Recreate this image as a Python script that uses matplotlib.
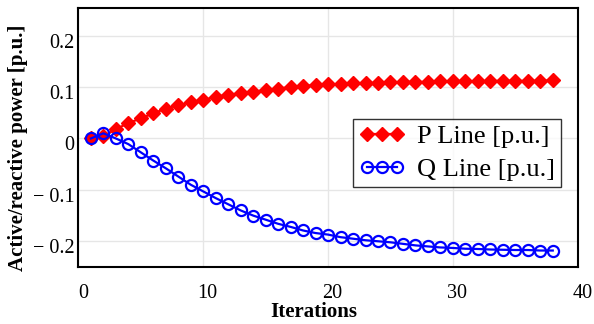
import matplotlib
matplotlib.use("Agg")
import matplotlib.pyplot as plt
from matplotlib.transforms import ScaledTranslation

iterations = list(range(1, 39))
p_line = [0.000, 0.004, 0.018, 0.030, 0.039, 0.049, 0.058, 0.065, 0.070, 0.075,
          0.081, 0.085, 0.088, 0.091, 0.094, 0.097, 0.100, 0.102, 0.104, 0.105,
          0.106, 0.107, 0.108, 0.108, 0.109, 0.110, 0.110, 0.110, 0.111, 0.111,
          0.111, 0.111, 0.112, 0.112, 0.112, 0.112, 0.112, 0.113]
q_line = [0.000, 0.010, 0.000, -0.011, -0.027, -0.043, -0.058, -0.074, -0.090, -0.103,
          -0.116, -0.128, -0.140, -0.150, -0.158, -0.166, -0.172, -0.179, -0.184, -0.187,
          -0.192, -0.195, -0.198, -0.200, -0.202, -0.205, -0.208, -0.210, -0.212, -0.213,
          -0.2145, -0.215, -0.216, -0.2165, -0.217, -0.217, -0.218, -0.218]
x_ticks = [0, 10, 20, 30, 40]
y_ticks = [-0.2, -0.1, 0, 0.1, 0.2]
y_tick_labels = ["\u2212 0.2", "\u2212 0.1", "0", "0.1", "0.2"]

plt.rcParams['font.family'] = ['Liberation Serif', 'DejaVu Serif']

fig = plt.figure(figsize=(5.94, 3.24), dpi=100)
ax = fig.add_axes([0.132, 0.176, 0.8406, 0.798])

ax.plot(iterations, p_line, color='red', marker='D', markersize=7, lw=1.6,
        label='P Line [p.u.]', zorder=3)
ax.plot(iterations, q_line, color='blue', marker='o', markersize=8, lw=1.6,
        markerfacecolor='none', markeredgewidth=1.6, markeredgecolor='blue',
        label='Q Line [p.u.]', zorder=3)

ax.set_xlim(0, 40)
ax.set_ylim(-0.25, 0.253)
ax.set_xticks(x_ticks)
ax.set_yticks(y_ticks)
ax.set_yticklabels(y_tick_labels)
ax.grid(True, color='#e6e6e6', lw=1.0)
ax.set_axisbelow(True)
ax.tick_params(axis='both', length=0, labelsize=14.5)
ax.tick_params(axis='x', pad=12)
ax.tick_params(axis='y', pad=3)
for sp in ax.spines.values():
    sp.set_linewidth(1.5)
    sp.set_color('black')

for lab in ax.get_xticklabels():
    lab.set_transform(lab.get_transform() + ScaledTranslation(4.5/100, 0, fig.dpi_scale_trans))
for lab in ax.get_yticklabels():
    lab.set_transform(lab.get_transform() + ScaledTranslation(0, -5/100, fig.dpi_scale_trans))

ax.set_xlabel('Iterations', fontsize=15, fontweight='bold')
ax.set_ylabel('Active/reactive power [p.u.]', fontsize=15, fontweight='bold')
ax.xaxis.set_label_coords(0.472, -0.137)
ax.yaxis.set_label_coords(-0.101, 0.46)

leg = ax.legend(loc='upper left', bbox_to_anchor=(0.550, 0.572), fontsize=19,
                numpoints=3, handlelength=1.75, frameon=True, fancybox=False,
                edgecolor='black', borderpad=0.22, labelspacing=0.35,
                handletextpad=0.45, borderaxespad=0)
leg.get_frame().set_linewidth(1.0)

fig.savefig('out.png', dpi=100)
